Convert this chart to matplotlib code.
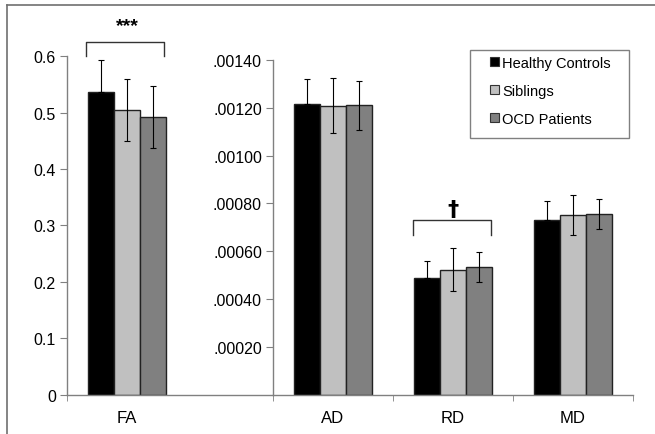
import numpy as np
import matplotlib.pyplot as plt
from matplotlib.patches import Patch, Rectangle
from matplotlib.lines import Line2D
from matplotlib.ticker import FuncFormatter

plt.rcParams['font.family'] = ['Liberation Sans', 'DejaVu Sans']

groups = ['Healthy Controls', 'Siblings', 'OCD Patients']
colors = ['#000000', '#c0c0c0', '#808080']

# FA panel
fa_means = [0.536, 0.505, 0.492]
fa_err = [0.057, 0.0545, 0.0545]

# AD / RD / MD panel
diff_labels = ['AD', 'RD', 'MD']
hc = [0.001215, 0.000489, 0.000732]
hc_err = [0.000105, 0.000071, 0.000077]
sib = [0.001209, 0.000523, 0.000752]
sib_err = [0.000115, 0.0000885, 0.0000835]
ocd = [0.001210, 0.000533, 0.000756]
ocd_err = [0.000104, 0.0000625, 0.000064]

W, H = 655, 435
fig = plt.figure(figsize=(W / 100, H / 100), dpi=100)

def fx(px):
    return px / W

def fy(py):
    return 1 - py / H

axc = '#808080'
bw = 0.218
offs = [-bw, 0, bw]

def style(ax):
    for s in ['top', 'right']:
        ax.spines[s].set_visible(False)
    for s in ['left', 'bottom']:
        ax.spines[s].set_color(axc)
        ax.spines[s].set_linewidth(1.0)
    ax.tick_params(axis='y', direction='out', length=5, color=axc, labelsize=11.5, pad=3)
    ax.tick_params(axis='x', which='major', length=0, labelsize=12, pad=11)
    ax.tick_params(axis='x', which='minor', length=4, color=axc)

def err(i, e):
    # lower half of the black bar's error bar is hidden inside the bar
    e = np.asarray(e, dtype=float)
    if i == 0:
        return [np.zeros_like(e), e]
    return e

# left panel: FA
ax1 = fig.add_axes([fx(67), fy(395.6), fx(206), (395.6 - 57.3) / H])
for i in range(3):
    ax1.bar(0 + offs[i], fa_means[i], bw, color=colors[i], edgecolor='#222222', linewidth=1.0)
    ax1.errorbar([0 + offs[i]], [fa_means[i]], yerr=err(i, [fa_err[i]]), fmt='none',
                 ecolor='black', elinewidth=0.8, capsize=2.5, capthick=0.8)
ax1.set_xlim(-0.5, -0.5 + 206 / 120)
ax1.set_ylim(0, 0.6)
ax1.set_yticks(np.arange(0, 0.61, 0.1))
ax1.yaxis.set_major_formatter(FuncFormatter(lambda v, p: '0' if v == 0 else f'{v:.1f}'))
ax1.set_xticks([0])
ax1.set_xticklabels(['FA'])
ax1.set_xticks([-0.5], minor=True)
style(ax1)

# significance bracket FA
ax1.plot([-0.344, -0.344, 0.311, 0.311], [0.6005, 0.626, 0.626, 0.6005], color='#333333',
         lw=1.0, clip_on=False)
ax1.text(0, 0.655, '***', ha='center', va='center', fontsize=14, fontweight='bold')

# right panel: AD, RD, MD
ax2 = fig.add_axes([fx(273), fy(395.6), fx(360), (395.6 - 61) / H])
x = np.arange(len(diff_labels))
for i, (m, e) in enumerate([(hc, hc_err), (sib, sib_err), (ocd, ocd_err)]):
    ax2.bar(x + offs[i], m, bw, color=colors[i], edgecolor='#222222', linewidth=1.0)
    ax2.errorbar(x + offs[i], m, yerr=err(i, e), fmt='none', ecolor='black',
                 elinewidth=0.8, capsize=2.5, capthick=0.8)
ax2.set_xlim(-0.5, 2.5)
ax2.set_ylim(0, 0.0014)
ax2.set_yticks(np.arange(0.0002, 0.00141, 0.0002))
ax2.yaxis.set_major_formatter(FuncFormatter(lambda v, p: f'{v:.5f}'[1:]))
ax2.set_xticks(x)
ax2.set_xticklabels(diff_labels)
ax2.set_xticks([-0.5, 0.5, 1.5, 2.5], minor=True)
style(ax2)

# RD bracket
ax2.plot([1 - 0.3375, 1 - 0.3375, 1 + 0.3125, 1 + 0.3125],
         [0.000668, 0.000730, 0.000730, 0.000668], color='#333333', lw=1.0, clip_on=False)
ax2.text(1, 0.000778, '\u2020', ha='center', va='center', fontsize=16, fontweight='bold',
         family=['DejaVu Sans'])

# legend
fig.add_artist(Rectangle((fx(470), fy(139.3)), fx(159), (139.3 - 50.7) / H,
                         transform=fig.transFigure, fill=False, edgecolor='#808080', lw=1.0))
handles = [Patch(facecolor=c, edgecolor='#333333', linewidth=0.8) for c in colors]
fig.legend(handles, groups, loc='upper left', bbox_to_anchor=(fx(490), fy(57)),
           frameon=False, fontsize=10.5, handlelength=0.6, handleheight=0.6,
           handletextpad=0.25, labelspacing=0.95, borderpad=0, borderaxespad=0)

# outer frame
fig.add_artist(Line2D([fx(7), fx(7)], [0, fy(6)], color='#707070', lw=1.2))
fig.add_artist(Line2D([fx(7), 1], [fy(6), fy(6)], color='#707070', lw=1.2))

fig.savefig('out.png', dpi=100)
